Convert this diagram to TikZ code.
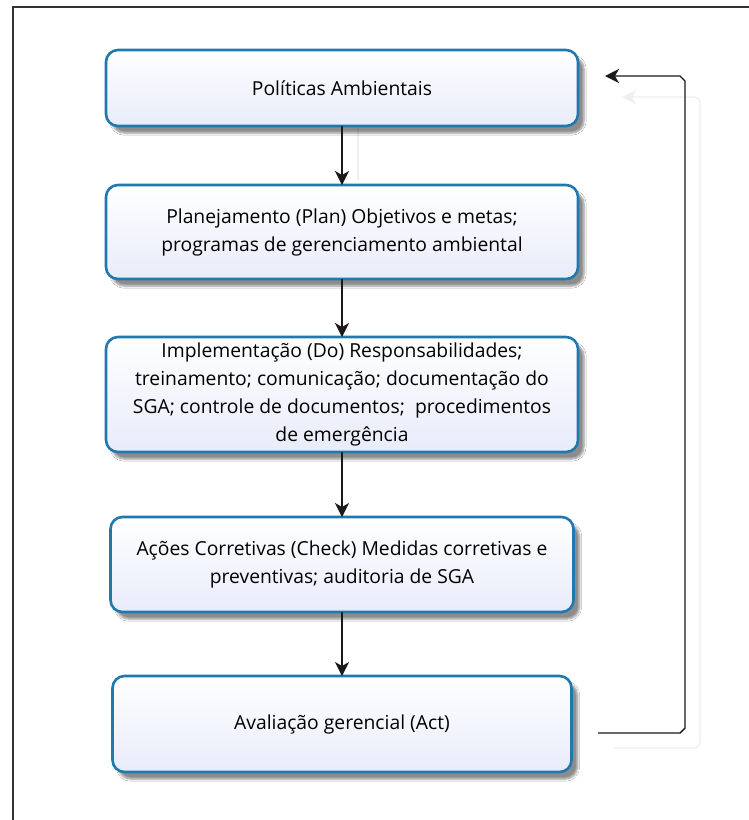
\documentclass[tikz,border=0pt]{standalone}
\usepackage{fontspec}
\setmainfont{Open Sans}
\usetikzlibrary{arrows.meta,shadows.blur}
\definecolor{boxedge}{HTML}{1F78AE}
\definecolor{boxtop}{HTML}{FFFFFF}
\definecolor{boxbot}{HTML}{E8ECFA}
\definecolor{lineclr}{HTML}{1A1A1A}
\definecolor{ghost}{HTML}{EFEFEF}
\tikzset{
  stagebox/.style={draw=boxedge, line width=2.6pt, rounded corners=12pt,
    top color=boxtop, bottom color=boxbot, align=center,
    inner sep=0pt, outer sep=0pt,
    blur shadow={shadow xshift=6pt, shadow yshift=-7pt, shadow blur steps=6, shadow opacity=45},
    font=\fontsize{19.3}{28}\selectfont},
  flow/.style={draw=lineclr, line width=1.4pt,
    -{Stealth[length=14pt,width=14pt,inset=4pt]}},
  ghostline/.style={draw=ghost, line width=1.4pt}
}
\begin{document}
\begin{tikzpicture}[x=1pt,y=-1pt]
\useasboundingbox (0,0) rectangle (749,820);
\fill[white] (0,0) rectangle (749,820);
% frame
\draw[line width=2pt, color=black!80] (13,820) -- (13,7) -- (749,7);

% ghost connectors
\draw[ghostline] (358,128) -- (358,180);
\draw[ghostline, rounded corners=6pt] (613,748) -- (700,748) -- (700,97) -- (630,97);
\fill[ghost] (622,97) -- (636,90) -- (632,97) -- (636,104) -- cycle;

% boxes
\node[stagebox, minimum width=472pt, minimum height=76pt] (p1) at (342,88) {Políticas Ambientais};
\node[stagebox, minimum width=472pt, minimum height=94pt] (p2) at (342,232)
  {Planejamento (Plan) Objetivos e metas;\\programas de gerenciamento ambiental};
\node[stagebox, minimum width=472pt, minimum height=115pt] (p3) at (342,394.5)
  {Implementação (Do) Responsabilidades;\\treinamento; comunicação; documentação do\\SGA; controle de documentos;\ \ procedimentos\\de emergência};
\node[stagebox, minimum width=463pt, minimum height=95pt] (p4) at (342,564.5)
  {Ações Corretivas (Check) Medidas corretivas e\\preventivas; auditoria de SGA};
\node[stagebox, minimum width=459pt, minimum height=96pt] (p5) at (342,724)
  {Avaliação gerencial (Act)};

% connectors
\draw[flow] (p1.south) -- (p2.north);
\draw[flow] (p2.south) -- (p3.north);
\draw[flow] (p3.south) -- (p4.north);
\draw[flow] (p4.south) -- (p5.north);

\coordinate (fbstart) at (598,733);
\coordinate (fbend) at (605,76);
\draw[flow] (fbstart) -- (680,733) -- (685,728) -- (685,81) -- (680,76) -- (fbend);
\end{tikzpicture}
\end{document}
